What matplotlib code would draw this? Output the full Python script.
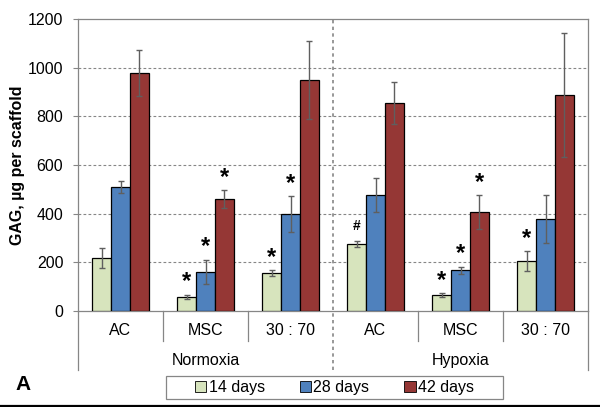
import matplotlib
matplotlib.use('Agg')
import matplotlib.pyplot as plt
from matplotlib.patches import Patch, Rectangle
from matplotlib.lines import Line2D
import numpy as np

plt.rcParams['font.family'] = ['Liberation Sans', 'DejaVu Sans']

groups = ['AC', 'MSC', '30 : 70', 'AC', 'MSC', '30 : 70']
conditions = ['Normoxia', 'Hypoxia']
series = ['14 days', '28 days', '42 days']

day14 = [218, 58, 156, 275, 66, 205]
day28 = [508, 160, 399, 477, 168, 378]
day42 = [978, 460, 948, 855, 407, 889]

err14 = [41, 9, 12, 13, 8, 40]
err28 = [25, 50, 73, 70, 14, 100]
err42 = [93, 37, 161, 85, 70, 255]

# significance marks: (group index, series index, symbol)
marks = [(1, 0, '*'), (1, 1, '*'), (1, 2, '*'),
         (2, 0, '*'), (2, 1, '*'),
         (3, 0, '#'),
         (4, 0, '*'), (4, 1, '*'), (4, 2, '*'),
         (5, 0, '*')]

colors = ['#D7E4BD', '#4F81BD', '#953735']
grid_col = '#868686'

fig = plt.figure(figsize=(6, 4.07), dpi=100)
ax = fig.add_axes([0.13, 0.2359, 0.85, 0.7174])

x = np.arange(len(groups))
w = 0.2235
vals = [day14, day28, day42]
errs = [err14, err28, err42]
for i in range(3):
    pos = x + (i - 1) * w
    ax.bar(pos, vals[i], w, color=colors[i], edgecolor='black', linewidth=0.9, zorder=3)
    eb = ax.errorbar(pos, vals[i], yerr=errs[i], fmt='none', ecolor='#5f5f5f',
                     elinewidth=1.0, capsize=2.2, capthick=1.0, zorder=4)
    for c in eb[1]:
        c.set_color('black')

for g, s, sym in marks:
    top = vals[s][g] + errs[s][g]
    xp = x[g] + (s - 1) * w
    if sym == '*':
        ax.annotate(sym, (xp, top), xytext=(0, 1), textcoords='offset points',
                    ha='center', va='bottom', fontsize=17, fontweight='bold')
    else:
        ax.annotate(sym, (xp, top), xytext=(0, 6), textcoords='offset points',
                    ha='center', va='bottom', fontsize=10, fontweight='bold')

ax.set_xlim(-0.5, 5.5)
ax.set_ylim(0, 1200)
ax.set_yticks(range(0, 1201, 200))
ax.tick_params(axis='y', labelsize=11.5, length=3.6, width=0.8, color=grid_col, pad=7)
ax.set_xticks([])
for v in range(200, 1001, 200):
    ax.axhline(v, color=grid_col, linestyle=(0, (2.5, 2)), linewidth=0.8, zorder=1)
for sp in ax.spines.values():
    sp.set_color(grid_col)
    sp.set_linewidth(0.9)

ax.set_ylabel('GAG, µg per scaffold', fontsize=11.5, fontweight='bold')
ax.yaxis.set_label_coords(-0.104, 0.5)

tr = ax.get_xaxis_transform()
# middle divider between conditions
ax.plot([2.5, 2.5], [-0.202, 1], transform=tr, color=grid_col, linestyle=(0, (2, 2)),
        linewidth=1.2, clip_on=False, zorder=2)
for xv in [-0.5, 5.5]:
    ax.plot([xv, xv], [-0.202, 0], transform=tr, color=grid_col, linewidth=0.9, clip_on=False)
for xv in [0.5, 1.5, 3.5, 4.5]:
    ax.plot([xv, xv], [-0.1027, 0], transform=tr, color=grid_col, linewidth=0.9, clip_on=False)

for xi, lab in zip(x, groups):
    ax.text(xi, -0.0685, lab, transform=tr, ha='center', va='center', fontsize=11.5)
for ci, cond in enumerate(conditions):
    ax.text(1 + ci * 3, -0.168, cond, transform=tr, ha='center', va='center', fontsize=11.5)

handles = [Patch(facecolor=colors[i], edgecolor='black', linewidth=0.6) for i in range(3)]
fig.legend(handles, series, loc='center', bbox_to_anchor=(0.5575, 0.0479), ncol=3,
           frameon=False, fontsize=11.5, handlelength=0.7, handleheight=0.7,
           handletextpad=0.15, columnspacing=2.2)
fig.patches.append(Rectangle((166 / 600, 1 - 399 / 407), 337 / 600, 23 / 407,
                             transform=fig.transFigure, fill=False, edgecolor=grid_col,
                             linewidth=0.9))

fig.text(23 / 600, 1 - 385 / 407, 'A', ha='center', va='center', fontsize=15, fontweight='bold')
fig.add_artist(Line2D([0, 1], [1.2 / 407, 1.2 / 407], color='black', linewidth=1.6))

fig.savefig('out.png', dpi=100)
